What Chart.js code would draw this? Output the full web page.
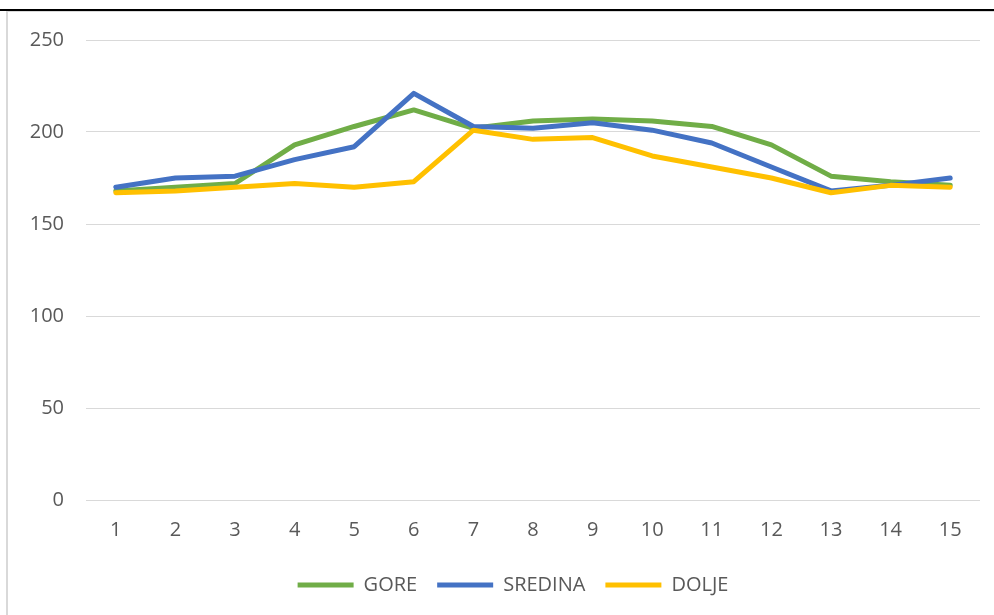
<!DOCTYPE html>
<html>
<head>
<meta charset="utf-8">
<script src="https://cdn.jsdelivr.net/npm/chart.js@4.4.0/dist/chart.umd.min.js"></script>
<style>
  body { margin: 0; background: #fff; }
  #topLine { position: absolute; left: 0; top: 9px; width: 994px; height: 2px; background: #000; }
  #frame {
    position: absolute; left: 6px; top: 11px; width: 988px; height: 604px;
    border-left: 2px solid #d9d9d9; border-top: 1px solid #d9d9d9; box-sizing: border-box;
  }
  #chartBox { position: absolute; left: 2px; top: 1px; width: 986px; height: 603px; }
</style>
</head>
<body>
<div id="topLine"></div>
<div id="frame">
  <div id="chartBox"><canvas id="lineCanvas"></canvas></div>
</div>
<script>
// x categories and series
const labels = ["1", "2", "3", "4", "5", "6", "7", "8", "9", "10", "11", "12", "13", "14", "15"];
const gore = [168, 170, 172, 193, 203, 212, 202, 206, 207, 206, 203, 193, 176, 173, 171];
const sredina = [170, 175, 176, 185, 192, 221, 203, 202, 205, 201, 194, 181, 168, 171, 175];
const dolje = [167, 168, 170, 172, 170, 173, 201, 196, 197, 187, 181, 175, 167, 171, 170];

const textColor = "#595959";
const fontFamily = "'Open Sans', 'Noto Sans', sans-serif";

// shared look for every line
const lineStyle = (color, order) => ({
  borderColor: color,
  backgroundColor: color,
  borderWidth: 5,
  pointRadius: 0,
  pointHoverRadius: 0,
  tension: 0,
  borderJoinStyle: "round",
  borderCapStyle: "round",
  pointStyle: "line",
  order: order, // last series drawn on top
});

// nudge the legend a little to the right of the canvas centre
const legendShift = {
  id: "legendShift",
  afterLayout: (chart) => {
    chart.legend.left += 18;
    chart.legend.right += 18;
  },
};

const lineCanvas = document.getElementById("lineCanvas");

let myChart = new Chart(lineCanvas, {
  type: "line",
  data: {
    labels: labels,
    datasets: [
      { label: "GORE", data: gore, ...lineStyle("#70ad47", 3) },
      { label: "SREDINA", data: sredina, ...lineStyle("#4472c4", 2) },
      { label: "DOLJE", data: dolje, ...lineStyle("#ffc000", 1) },
    ],
  },
  plugins: [legendShift],
  options: {
    responsive: true,
    maintainAspectRatio: false,
    animation: false,
    layout: { padding: { top: 27, right: 16, bottom: 11, left: 0 } },
    scales: {
      x: {
        offset: true,
        grid: { display: false },
        border: { display: false },
        ticks: { color: textColor, font: { size: 20, family: fontFamily }, padding: 10 },
        afterFit: (scale) => { scale.height = 55; },
      },
      y: {
        min: 0,
        max: 250,
        grid: { color: "#d9d9d9", lineWidth: 1, drawTicks: false },
        border: { display: false },
        ticks: { stepSize: 50, color: textColor, font: { size: 20, family: fontFamily }, padding: 22 },
        afterFit: (scale) => {
          scale.width = 76;
          // let layout.padding alone decide the plot top/bottom
          scale.paddingTop = 0;
          scale.paddingBottom = 0;
        },
      },
    },
    plugins: {
      tooltip: { enabled: false },
      legend: {
        position: "bottom",
        labels: {
          usePointStyle: true,
          pointStyleWidth: 56,
          color: textColor,
          font: { size: 20, family: fontFamily },
          padding: 20,
          sort: (a, b) => a.datasetIndex - b.datasetIndex,
        },
      },
    },
  },
});
</script>
</body>
</html>
